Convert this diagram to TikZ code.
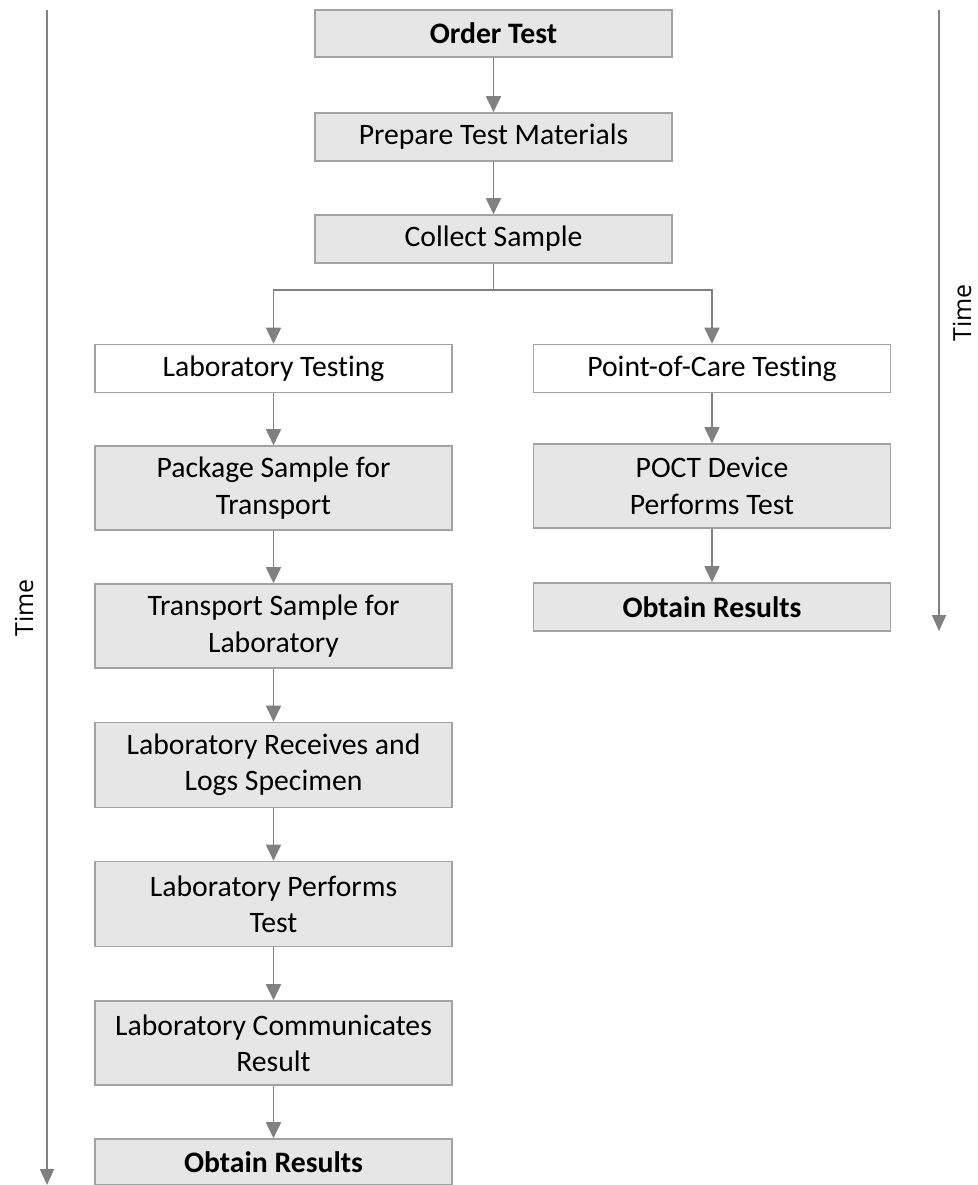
\documentclass[tikz,border=0pt]{standalone}
\usepackage{fontspec}
\setmainfont{Carlito}[Ligatures=NoCommon]
\newfontfamily\timefont{Open Sans}
\usetikzlibrary{arrows.meta}
\definecolor{boxfill}{HTML}{E6E6E6}
\definecolor{boxline}{HTML}{A3A3A3}
\definecolor{linkgray}{HTML}{808080}
\tikzset{
  x=1bp, y=-1bp,
  stepbox/.style={draw=boxline, line width=1.6bp, fill=boxfill, minimum width=357bp,
    inner sep=0pt, align=center, font=\fontsize{29.8}{36.5}\selectfont},
  branchbox/.style={stepbox, fill=white},
  link/.style={draw=linkgray, line width=1.8bp, -{Triangle[width=15bp,length=16bp]}},
  plain/.style={draw=linkgray, line width=1.8bp},
  timeaxis/.style={draw=linkgray, line width=1.8bp, -{Triangle[width=14bp,length=16bp]}},
  timelabel/.style={font=\timefont\fontsize{25}{30}\selectfont, rotate=90}
}
\begin{document}
\begin{tikzpicture}
\useasboundingbox (0,0) rectangle (978,1185);

% shared steps
\node[stepbox, minimum height=47bp] (order) at (493.5,33.5) {\textbf{Order Test}};
\node[stepbox, minimum height=48bp] (prep) at (493.5,137) {Prepare Test Materials};
\node[stepbox, minimum height=48bp] (collect) at (493.5,239) {Collect Sample};

% branch heads
\node[branchbox, minimum height=48bp] (lab) at (273.5,368.5) {Laboratory Testing};
\node[branchbox, minimum height=48bp] (poc) at (712,368.5) {Point-of-Care Testing};

% laboratory path
\node[stepbox, minimum height=84bp] (pack) at (273.5,488) {Package Sample for\\Transport};
\node[stepbox, minimum height=84bp] (trans) at (273.5,626) {Transport Sample for\\Laboratory};
\node[stepbox, minimum height=85bp] (recv) at (273.5,765) {Laboratory Receives and\\Logs Specimen};
\node[stepbox, minimum height=85bp] (perf) at (273.5,904) {Laboratory Performs\\Test};
\node[stepbox, minimum height=84bp] (comm) at (273.5,1043) {Laboratory Communicates\\Result};
\node[stepbox, minimum height=46bp] (resL) at (273.5,1162) {\textbf{Obtain Results}};

% point-of-care path
\node[stepbox, minimum height=84bp] (poct) at (712,486) {POCT Device\\Performs Test};
\node[stepbox, minimum height=48bp] (resR) at (712,607) {\textbf{Obtain Results}};

% connectors
\draw[link] (order) -- (prep);
\draw[link] (prep) -- (collect);
\draw[plain] (collect.south) -- ++(0,26) coordinate (split);
\draw[link] (split) -| (lab.north);
\draw[link] (split) -| (poc.north);
\draw[link] (lab) -- (pack);
\draw[link] (pack) -- (trans);
\draw[link] (trans) -- (recv);
\draw[link] (recv) -- (perf);
\draw[link] (perf) -- (comm);
\draw[link] (comm) -- (resL);
\draw[link] (poc) -- (poct);
\draw[link] (poct) -- (resR);

% time axes
\coordinate (tLa) at (47,10);
\coordinate (tLb) at (47,1185);
\coordinate (tRa) at (939,10);
\coordinate (tRb) at (939,631);
\draw[timeaxis] (tLa) -- (tLb);
\draw[timeaxis] (tRa) -- (tRb);
\node[timelabel] (timeL) at (24,608) {Time};
\node[timelabel] (timeR) at (962,313) {Time};
\end{tikzpicture}
\end{document}
